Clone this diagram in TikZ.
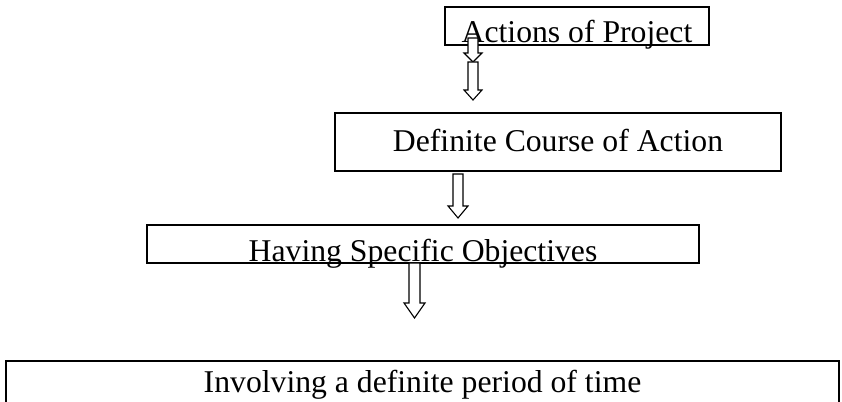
\documentclass[tikz,border=0pt]{standalone}
\usepackage{fontspec}
\setmainfont{Liberation Serif}
\begin{document}
\begin{tikzpicture}[x=1pt,y=1pt,
  box/.style={draw, line width=1.8pt, inner sep=0pt, anchor=base,
    font=\fontsize{31.7}{38}\selectfont},
  blk/.style={draw, line width=1.1pt, fill=white, line join=miter}]
\useasboundingbox (0,0) rectangle (842,401);
\clip (0,0) rectangle (842,401);
% boxes
\node[box, minimum width=264pt, text height=36pt, text depth=2pt] (b1) at (577,358) {Actions of Project};
\node[box, minimum width=446pt, text height=39pt, text depth=19pt] (b2) at (558,249) {Definite Course of Action};
\node[box, minimum width=552pt, text height=37pt, text depth=1pt] (b3) at (423,139) {Having Specific Objectives};
\node[box, minimum width=833pt, text height=31pt, text depth=22pt] (b4) at (422.5,9) {Involving a definite period of time};
% block arrows: \blk{cx}{top}{headstart}{tip}{shafthalf}{headhalf}
\newcommand\blkarrow[6]{%
  \draw[blk] ({#1-#5},#2) -- ({#1+#5},#2) -- ({#1+#5},#3) -- ({#1+#6},#3)
    -- (#1,#4) -- ({#1-#6},#3) -- ({#1-#5},#3) -- cycle;}
\blkarrow{473}{363}{348}{339}{5}{9}
\blkarrow{473}{339}{311}{301}{5}{9}
\blkarrow{458}{227}{195}{183}{5}{10}
\blkarrow{414.5}{138}{98}{83}{5.5}{10.5}
\end{tikzpicture}
\end{document}
